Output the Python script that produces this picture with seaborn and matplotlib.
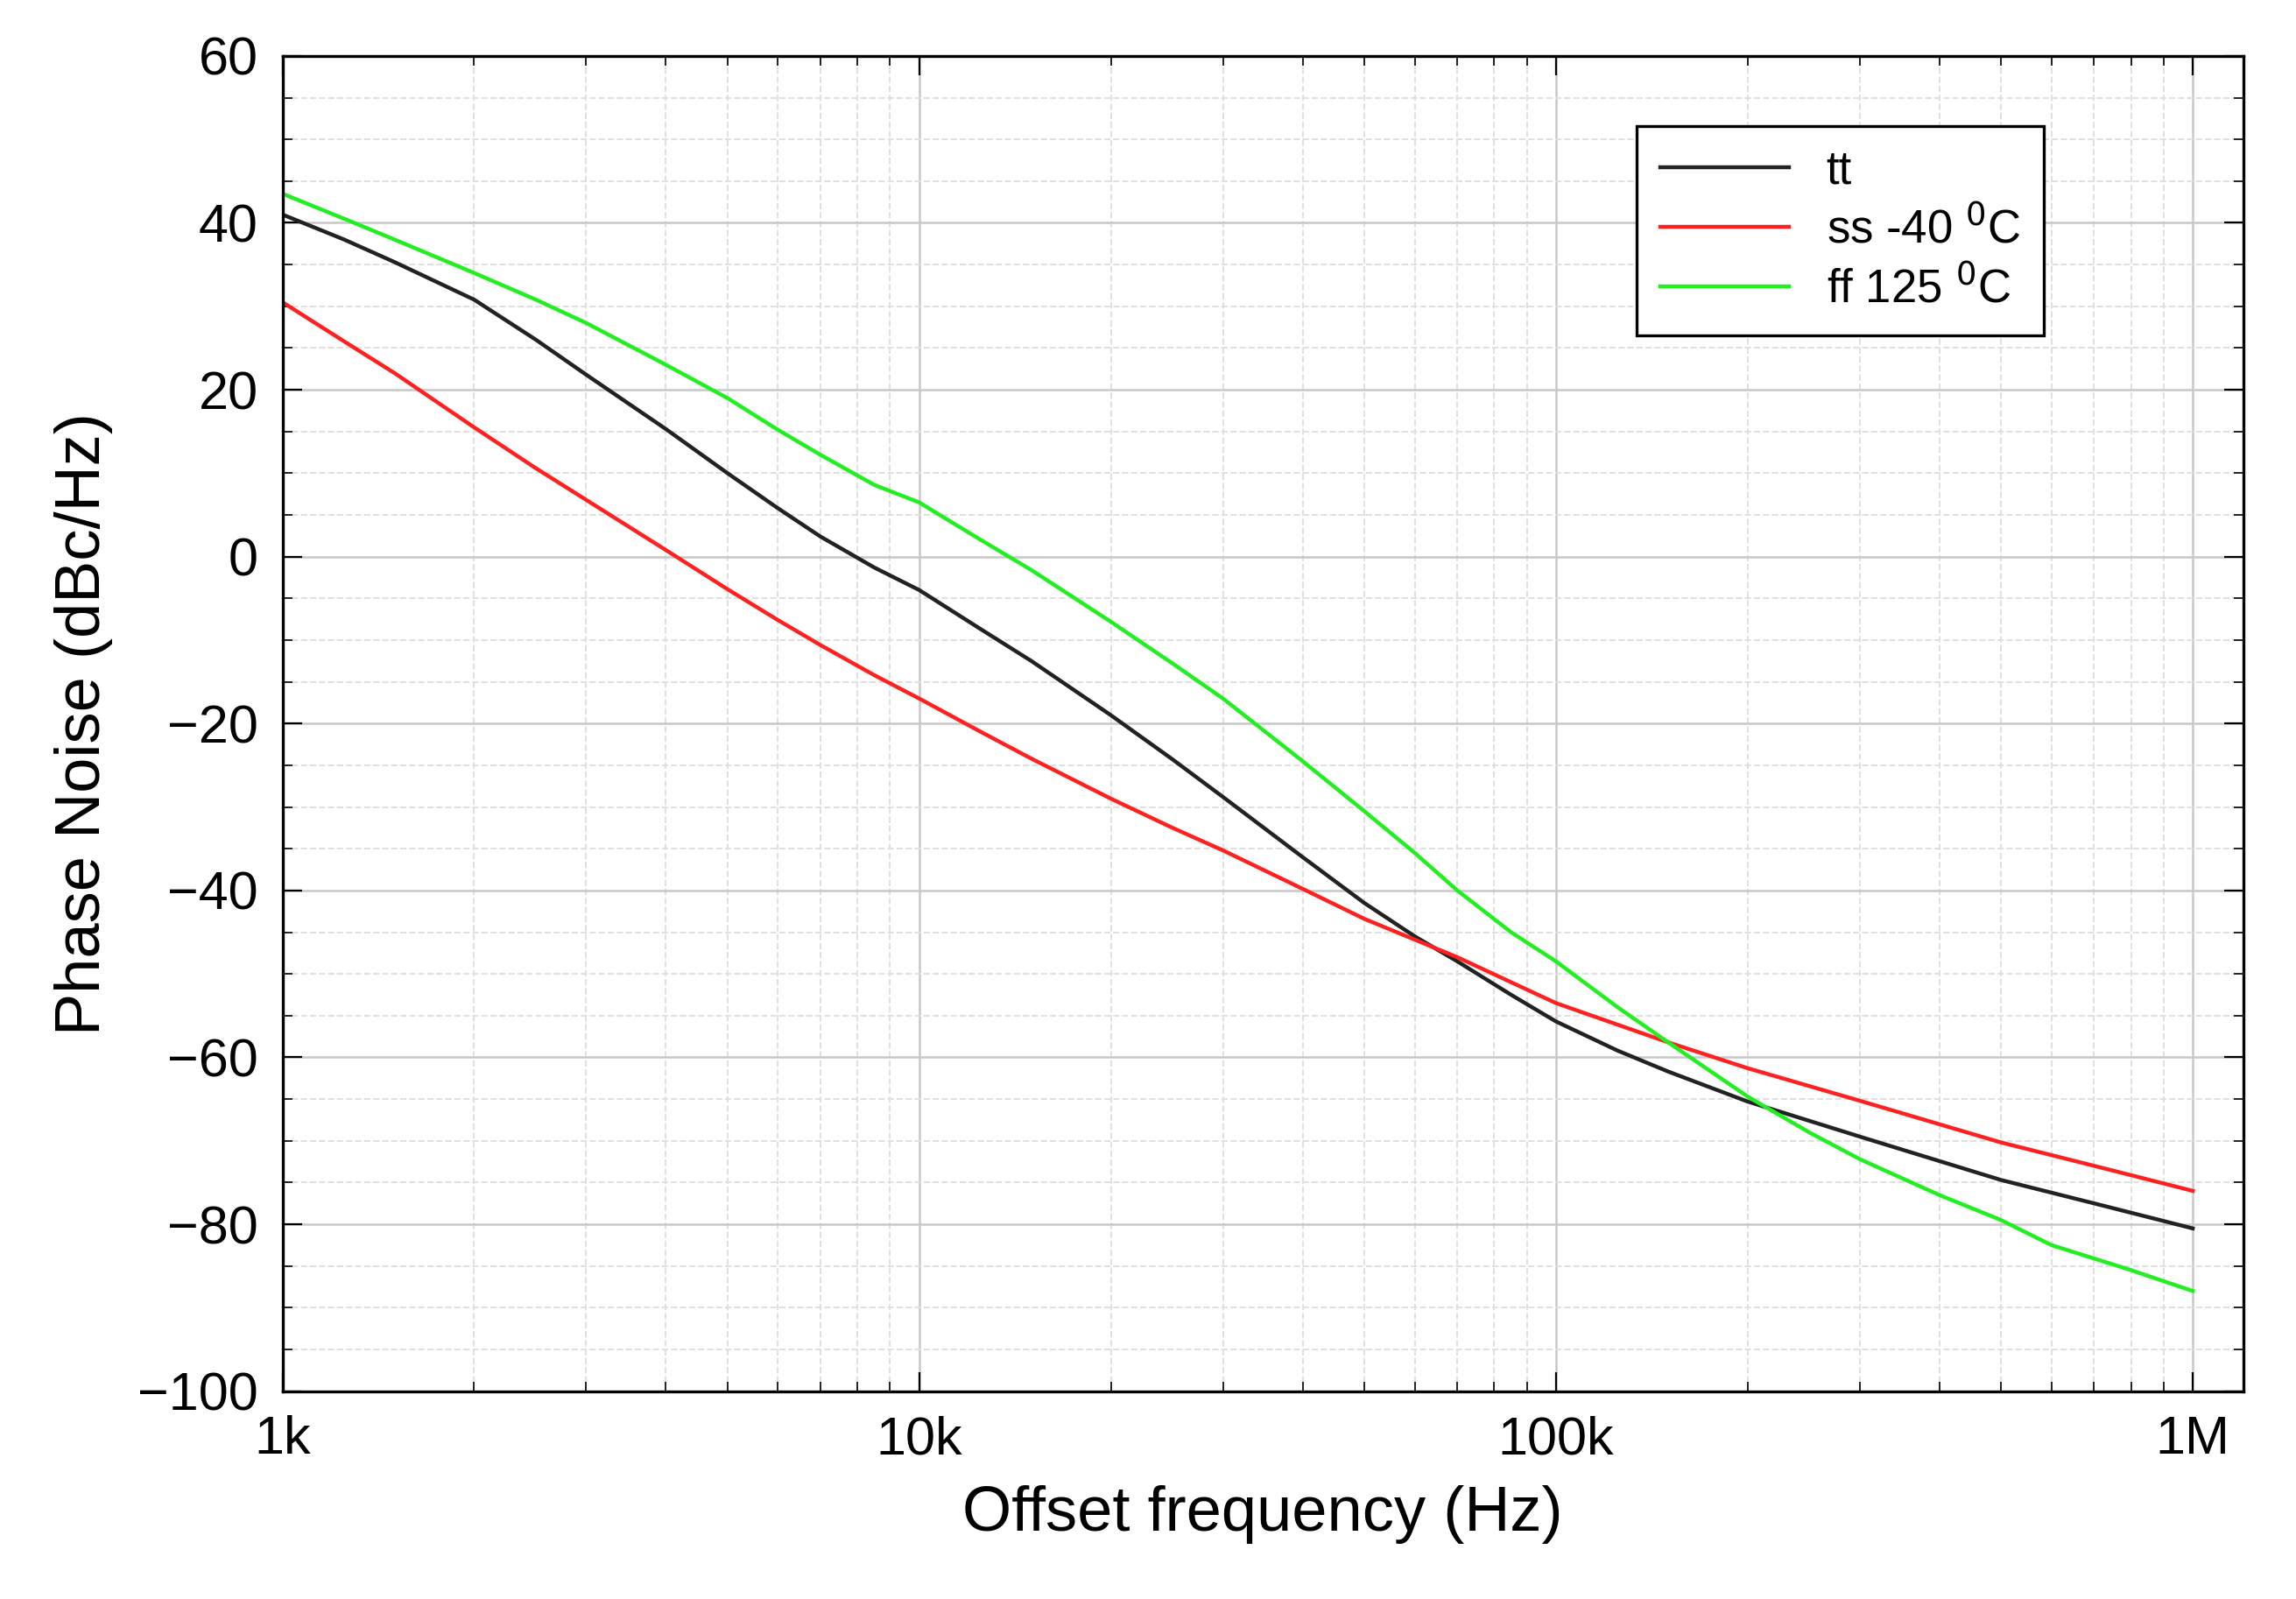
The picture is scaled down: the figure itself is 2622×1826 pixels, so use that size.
import matplotlib
matplotlib.use("Agg")
import matplotlib.pyplot as plt
import seaborn as sns
import pandas as pd
from matplotlib.ticker import FixedLocator, MultipleLocator, NullFormatter

freq_tt = [1e3, 1.25e3, 1.5e3, 2e3, 2.5e3, 3e3, 4e3, 5e3, 6e3, 7e3, 8.5e3, 1e4, 1.25e4, 1.5e4, 2e4, 2.5e4, 3e4, 4e4, 5e4, 6e4, 7e4, 8.5e4, 1e5, 1.25e5, 1.5e5, 2e5, 3e5, 5e5, 7e5, 1e6]
tt = [41, 38, 35.3, 30.8, 26, 21.8, 15.3, 10, 5.8, 2.4, -1.3, -4, -8.7, -12.5, -19, -24.3, -28.8, -36, -41.5, -45.5, -48.5, -52.5, -55.7, -59.2, -61.7, -65.3, -69.5, -74.7, -77.5, -80.5]
freq_ss = [1e3, 1.25e3, 1.5e3, 2e3, 2.5e3, 3e3, 4e3, 5e3, 6e3, 7e3, 8.5e3, 1e4, 1.25e4, 1.5e4, 2e4, 2.5e4, 3e4, 4e4, 5e4, 7e4, 1e5, 1.5e5, 2e5, 3e5, 5e5, 7e5, 1e6]
ss = [30.5, 25.8, 22, 15.5, 10.6, 6.8, 0.8, -3.9, -7.6, -10.6, -14.2, -17, -21, -24.2, -29, -32.5, -35.2, -39.8, -43.4, -48, -53.5, -58.2, -61.3, -65.2, -70.2, -73, -76]
freq_ff = [1e3, 1.25e3, 1.5e3, 2e3, 2.5e3, 3e3, 4e3, 5e3, 6e3, 7e3, 8.5e3, 1e4, 1.25e4, 1.5e4, 2e4, 2.5e4, 3e4, 4e4, 5e4, 6e4, 7e4, 8.5e4, 1e5, 1.25e5, 1.5e5, 2e5, 2.5e5, 3e5, 4e5, 5e5, 6e5, 8e5, 1e6]
ff = [43.5, 40.5, 38, 34, 30.8, 28, 23, 19, 15.2, 12.2, 8.6, 6.5, 2, -1.6, -7.8, -12.8, -17, -24.5, -30.5, -35.5, -40, -45, -48.5, -54, -58.2, -64.7, -69, -72.2, -76.5, -79.5, -82.5, -85.5, -88]
labels = ["tt", "ss -40 $^0$C", "ff 125 $^0$C"]
colors = ["#222222", "#ff2020", "#22ee22"]

df = pd.concat([
    pd.DataFrame({"f": freq_tt, "pn": tt, "s": labels[0]}),
    pd.DataFrame({"f": freq_ss, "pn": ss, "s": labels[1]}),
    pd.DataFrame({"f": freq_ff, "pn": ff, "s": labels[2]}),
])

plt.rcParams["font.family"] = "Liberation Sans"
fig = plt.figure(figsize=(13.11, 9.13), dpi=200)
ax = fig.add_axes([0.123, 0.13, 0.854, 0.835])
sns.lineplot(data=df, x="f", y="pn", hue="s", palette=colors, ax=ax, linewidth=1.6, sort=False)
ax.set_xscale("log")
ax.set_xlim(1e3, 1.2e6)
ax.set_ylim(-100, 60)
ax.set_xticks([1e3, 1e4, 1e5, 1e6])
ax.set_xticklabels(["1k", "10k", "100k", "1M"])
ax.xaxis.set_minor_locator(FixedLocator([m * 10**e for e in range(3, 6) for m in range(2, 10)]))
ax.xaxis.set_minor_formatter(NullFormatter())
ax.yaxis.set_major_locator(MultipleLocator(20))
ax.yaxis.set_minor_locator(MultipleLocator(5))
ax.grid(which="major", color="#c8c8c8", linewidth=0.9)
ax.grid(which="minor", color="#e0e0e0", linewidth=0.7, linestyle="--")
ax.tick_params(which="both", direction="in", top=True, right=True, labelsize=22)
ax.tick_params(which="major", length=8, pad=10)
ax.tick_params(which="minor", length=4)
for s in ax.spines.values():
    s.set_linewidth(1.2)
ax.set_xlabel("Offset frequency (Hz)", fontsize=26, labelpad=8)
ax.set_ylabel("Phase Noise (dBc/Hz)", fontsize=26, labelpad=10)
leg = ax.legend(title=None, loc="upper right", bbox_to_anchor=(0.91, 0.965), fontsize=19,
                fancybox=False, edgecolor="black", framealpha=1, handlelength=2.8,
                borderpad=0.5, labelspacing=0.3)
leg.get_frame().set_linewidth(1.2)
fig.savefig("out.png", dpi=200)
